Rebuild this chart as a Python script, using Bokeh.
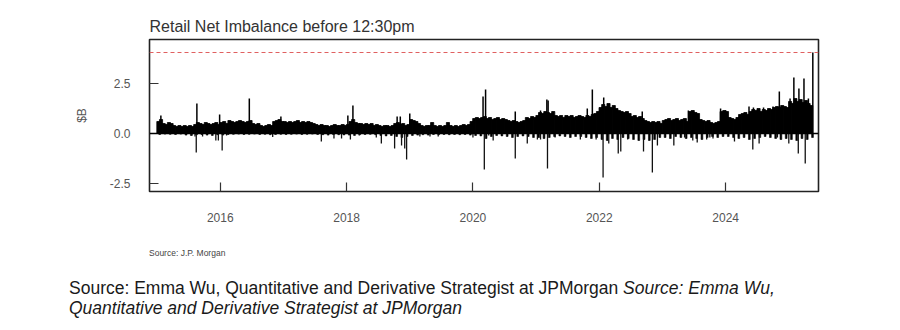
from bokeh.plotting import figure
from bokeh.models import Span, Title, FixedTicker, NumeralTickFormatter, Div
from bokeh.layouts import column
from bokeh.embed import file_html
from bokeh.resources import INLINE

# ---- data ($B) ----
# semi-monthly body level of the daily bars (24 per year)
body_2015 = [0.6, 0.7, 0.5, 0.45, 0.55, 0.5, 0.4, 0.35, 0.4, 0.35, 0.4, 0.35, 0.4, 0.35, 0.45, 0.55, 0.5, 0.45, 0.55, 0.5, 0.45, 0.5, 0.55, 0.45]
body_2016 = [0.55, 0.6, 0.5, 0.65, 0.6, 0.55, 0.6, 0.65, 0.6, 0.55, 0.6, 0.65, 0.5, 0.45, 0.5, 0.4, 0.35, 0.4, 0.45, 0.4, 0.6, 0.65, 0.7, 0.6]
body_2017 = [0.6, 0.55, 0.6, 0.55, 0.6, 0.65, 0.55, 0.6, 0.55, 0.6, 0.55, 0.5, 0.45, 0.4, 0.45, 0.4, 0.4, 0.35, 0.4, 0.45, 0.4, 0.4, 0.45, 0.4]
body_2018 = [0.45, 0.6, 0.7, 0.55, 0.5, 0.5, 0.45, 0.5, 0.45, 0.5, 0.4, 0.45, 0.4, 0.35, 0.4, 0.4, 0.35, 0.4, 0.5, 0.55, 0.45, 0.5, 0.4, 0.45]
body_2019 = [0.7, 0.65, 0.6, 0.5, 0.4, 0.35, 0.4, 0.4, 0.55, 0.4, 0.35, 0.4, 0.35, 0.4, 0.55, 0.4, 0.35, 0.4, 0.35, 0.4, 0.45, 0.4, 0.45, 0.6]
body_2020 = [0.75, 0.8, 0.75, 0.8, 0.85, 0.75, 0.8, 0.7, 0.75, 0.8, 0.7, 0.75, 0.7, 0.65, 0.6, 0.65, 0.6, 0.55, 0.6, 0.65, 0.8, 0.75, 0.85, 0.8]
body_2021 = [0.9, 1.05, 1.0, 1.1, 1.05, 1.0, 1.1, 0.9, 0.85, 0.9, 0.8, 0.9, 0.85, 0.9, 0.8, 0.85, 0.9, 0.85, 0.8, 0.9, 0.85, 0.95, 1.0, 1.1]
body_2022 = [1.3, 1.45, 1.35, 1.5, 1.3, 1.4, 1.25, 1.15, 1.1, 1.05, 1.1, 1.0, 0.85, 0.9, 0.8, 0.85, 0.75, 0.65, 0.6, 0.55, 0.6, 0.55, 0.6, 0.5]
body_2023 = [0.65, 0.7, 0.75, 0.65, 0.7, 0.75, 0.65, 0.7, 0.75, 0.6, 1.1, 1.15, 1.05, 1.0, 0.7, 0.65, 0.6, 0.65, 0.55, 0.5, 0.55, 0.6, 1.1, 1.15]
body_2024 = [1.1, 0.8, 0.75, 0.7, 0.8, 0.95, 1.0, 1.05, 0.95, 1.1, 1.2, 1.15, 1.25, 1.1, 1.2, 1.15, 1.25, 1.2, 1.3, 1.35, 1.3, 1.4, 1.35, 1.3]
body_2025 = [1.6, 1.5, 1.75, 1.6, 1.7, 1.55, 1.65, 1.5, 1.4]

# monthly small negative fringe
neg_2015 = [-0.05, -0.03, -0.04, -0.05, -0.03, -0.08, -0.1, -0.06, -0.05, -0.08, -0.1, -0.06]
neg_2016 = [-0.08, -0.05, -0.04, -0.03, -0.05, -0.04, -0.03, -0.05, -0.04, -0.06, -0.05, -0.04]
neg_2017 = [-0.05, -0.04, -0.03, -0.05, -0.04, -0.03, -0.05, -0.06, -0.08, -0.05, -0.06, -0.07]
neg_2018 = [-0.08, -0.1, -0.06, -0.05, -0.04, -0.06, -0.1, -0.12, -0.1, -0.15, -0.2, -0.15]
neg_2019 = [-0.1, -0.08, -0.06, -0.08, -0.05, -0.06, -0.05, -0.06, -0.05, -0.06, -0.05, -0.08]
neg_2020 = [-0.1, -0.12, -0.25, -0.15, -0.1, -0.12, -0.15, -0.2, -0.15, -0.12, -0.15, -0.2]
neg_2021 = [-0.2, -0.25, -0.2, -0.15, -0.12, -0.15, -0.2, -0.15, -0.15, -0.2, -0.25, -0.2]
neg_2022 = [-0.3, -0.35, -0.25, -0.3, -0.2, -0.25, -0.3, -0.35, -0.3, -0.35, -0.3, -0.2]
neg_2023 = [-0.2, -0.25, -0.15, -0.2, -0.25, -0.2, -0.25, -0.3, -0.2, -0.15, -0.2, -0.15]
neg_2024 = [-0.15, -0.2, -0.25, -0.2, -0.3, -0.25, -0.2, -0.15, -0.2, -0.25, -0.3, -0.25]
neg_2025 = [-0.3, -0.35, -0.25, -0.3, -0.2]

# individual days that stand out (decimal year, $B)
spike_dates = [2015.06, 2015.63, 2015.99, 2016.46, 2016.96, 2018.02, 2018.10, 2018.80, 2018.85, 2019.00,
               2020.16, 2020.20, 2020.67, 2021.07, 2021.17, 2021.19, 2021.81, 2021.89, 2022.07, 2022.17,
               2022.68, 2023.41, 2023.92, 2024.00, 2024.37, 2024.44, 2024.60, 2024.75, 2024.85, 2025.02,
               2025.08, 2025.16, 2025.24, 2025.31, 2025.38]
spike_vals = [0.9, 1.5, 0.95, 1.75, 0.85, 0.9, 1.4, 0.85, 0.85, 1.0,
              1.85, 2.2, 1.1, 1.15, 1.7, 1.65, 1.25, 2.2, 1.8, 1.3,
              1.1, 1.15, 1.25, 1.15, 1.35, 1.3, 1.3, 1.35, 2.1, 1.75,
              2.8, 2.25, 2.75, 1.75, 4.05]
dip_dates = [2015.45, 2015.55, 2015.60, 2015.62, 2015.72, 2015.93, 2015.97, 2016.03, 2016.10, 2016.83,
             2017.60, 2017.80, 2017.92, 2018.06, 2018.20, 2018.47, 2018.55, 2018.76, 2018.87, 2018.92,
             2018.95, 2019.16, 2019.32, 2019.45, 2020.00, 2020.18, 2020.25, 2020.32, 2020.67, 2020.86,
             2021.02, 2021.07, 2021.18, 2021.30, 2021.70, 2021.95, 2022.06, 2022.15, 2022.30, 2022.34,
             2022.45, 2022.70, 2022.84, 2022.92, 2023.18, 2023.35, 2023.48, 2023.55, 2023.70, 2023.75,
             2023.80, 2024.14, 2024.43, 2024.53, 2024.82, 2025.00, 2025.15, 2025.26]
dip_vals = [-0.05, -0.1, -0.15, -0.95, -0.15, -0.35, -0.35, -0.85, -0.1, -0.17,
            -0.4, -0.25, -0.25, -0.3, -0.1, -0.2, -0.5, -0.75, -0.6, -0.75,
            -1.3, -0.15, -0.15, -0.15, -0.2, -1.8, -0.1, -0.35, -1.25, -0.5,
            -0.3, -0.3, -1.75, -0.2, -0.3, -0.3, -2.2, -0.5, -1.0, -0.9,
            -0.3, -0.9, -1.95, -0.6, -0.6, -0.2, -0.35, -0.45, -0.3, -0.2,
            -0.25, -0.4, -0.8, -0.5, -0.2, -0.5, -1.0, -1.5]

year_list = [2015, 2016, 2017, 2018, 2019, 2020, 2021, 2022, 2023, 2024, 2025]
body_by_year = [body_2015, body_2016, body_2017, body_2018, body_2019, body_2020,
                body_2021, body_2022, body_2023, body_2024, body_2025]
neg_by_year = [neg_2015, neg_2016, neg_2017, neg_2018, neg_2019, neg_2020,
               neg_2021, neg_2022, neg_2023, neg_2024, neg_2025]
x_ticks = [2016, 2018, 2020, 2022, 2024]
y_ticks = [-2.5, 0.0, 2.5]
ref_level = 4.05

title_text = "Retail Net Imbalance before 12:30pm"
source_small = "Source: J.P. Morgan"
caption_a = "Source: Emma Wu, Quantitative and Derivative Strategist at JPMorgan"
caption_b = "Source: Emma Wu,"
caption_c = "Quantitative and Derivative Strategist at JPMorgan"

# ---- build columns ----
bx, by = [], []
for yr, vals in zip(year_list, body_by_year):
    for i, v in enumerate(vals):
        bx.append(yr + (i + 0.5) / 24.0)
        by.append(v)
nx, ny = [], []
for yr, vals in zip(year_list, neg_by_year):
    for i, v in enumerate(vals):
        nx.append(yr + (i + 0.5) / 12.0)
        ny.append(v)

FONT = "Liberation Sans"

p = figure(width=900, height=240, output_backend="svg", toolbar_location=None,
           x_range=(2014.88, 2025.47), y_range=(-2.9, 4.7),
           min_border_left=149, min_border_right=82, min_border_top=39, min_border_bottom=49)
p.title = Title(text=title_text, align="left", text_font=FONT, text_font_size="16px",
                text_font_style="normal", text_color="#333333", standoff=9)
p.grid.visible = False
p.background_fill_color = "white"
p.border_fill_color = "white"
p.outline_line_color = "#222222"
p.outline_line_width = 1.6

p.vbar(x=bx, top=by, bottom=0, width=1 / 20.0, color="black", line_width=0.8)
p.vbar(x=nx, top=ny, bottom=0, width=1 / 36.0, color="black", line_width=0.6)
p.segment(x0=spike_dates, y0=[0] * len(spike_dates), x1=spike_dates, y1=spike_vals,
          line_color="black", line_width=1.5)
p.segment(x0=dip_dates, y0=[0] * len(dip_dates), x1=dip_dates, y1=dip_vals,
          line_color="#111111", line_width=1.3)

p.add_layout(Span(location=0, dimension="width", line_color="black", line_width=1.5))
p.add_layout(Span(location=ref_level, dimension="width", line_color="#e06060",
                  line_width=1.2, line_dash="4 3"))

# axes
p.xaxis.ticker = FixedTicker(ticks=x_ticks)
p.xaxis.formatter = NumeralTickFormatter(format="0")
p.yaxis.ticker = FixedTicker(ticks=y_ticks)
p.yaxis.formatter = NumeralTickFormatter(format="0.0")
for ax in (p.xaxis[0], p.yaxis[0]):
    ax.axis_line_color = None
    ax.major_tick_in = 9
    ax.major_tick_out = 0
    ax.minor_tick_line_color = None
    ax.major_tick_line_color = "#333333"
    ax.major_tick_line_width = 1.2
    ax.major_label_text_font = FONT
    ax.major_label_text_font_size = "12px"
    ax.major_label_text_color = "#555555"
p.xaxis.major_label_standoff = 21
p.yaxis.major_label_standoff = 19
p.yaxis.axis_label = "$B"
p.yaxis.axis_label_text_font = FONT
p.yaxis.axis_label_text_font_size = "12px"
p.yaxis.axis_label_text_font_style = "normal"
p.yaxis.axis_label_text_color = "#555555"
p.yaxis.axis_label_standoff = 18

html = (
    f'<div style="font-family:\'{FONT}\';font-size:8.5px;line-height:10px;color:#444;'
    f'margin:8px 0 0 149px;white-space:nowrap;">{source_small}</div>'
    f'<div style="font-family:\'{FONT}\';font-size:17.5px;line-height:20px;color:#1a1a1a;'
    f'margin:20px 0 0 69px;white-space:nowrap;">{caption_a} <i>{caption_b}</i><br><i>{caption_c}</i></div>'
)
caption = Div(text=html, width=900, height=90, margin=(0, 0, 0, 0))

layout = column(p, caption, spacing=0)
open("out.html", "w").write(file_html(layout, INLINE))
